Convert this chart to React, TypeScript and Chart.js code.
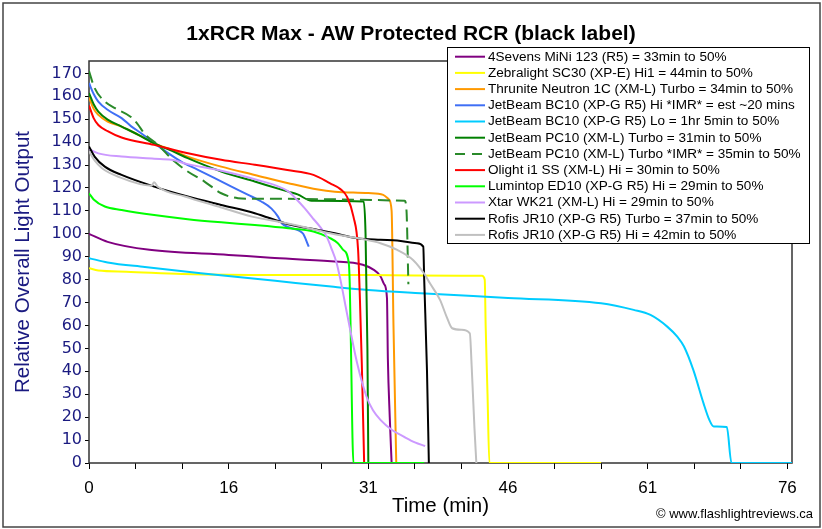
import { useEffect, useRef } from "react";
import { Chart, registerables } from "chart.js";

Chart.register(...registerables);

const chartTitle = "1xRCR Max - AW Protected RCR (black label)";
const yAxisTitle = "Relative Overall Light Output";
const xAxisTitle = "Time (min)";
const credit = "\u00a9 www.flashlightreviews.ca";

// the time axis is a category-style axis: a label every 15 steps
const xTickLabels = ["0", "16", "31", "46", "61", "76"];
const xMax = 75.5;
const yMax = 175.4;

const seriesNames = [
  "4Sevens MiNi 123 (R5) = 33min to 50%",
  "Zebralight SC30 (XP-E) Hi1 = 44min to 50%",
  "Thrunite Neutron 1C (XM-L) Turbo = 34min to 50%",
  "JetBeam BC10 (XP-G R5) Hi *IMR* = est ~20 mins",
  "JetBeam BC10 (XP-G R5) Lo = 1hr 5min to 50%",
  "JetBeam PC10 (XM-L) Turbo = 31min to 50%",
  "JetBeam PC10 (XM-L) Turbo *IMR* = 35min to 50%",
  "Olight i1 SS (XM-L) Hi = 30min to 50%",
  "Lumintop ED10 (XP-G R5) Hi = 29min to 50%",
  "Xtar WK21 (XM-L) Hi = 29min to 50%",
  "Rofis JR10 (XP-G R5) Turbo = 37min to 50%",
  "Rofis JR10 (XP-G R5) Hi = 42min to 50%",
];

const seriesColors = [
  "#800080", "#FFFF00", "#FF9900", "#3F6FF5", "#00CCFF", "#008000",
  "#2A8A2A", "#FF0000", "#00FF00", "#CC99FF", "#000000", "#C0C0C0",
];

type Pt = [number, number];

const fourSevens: Pt[] = [
  [0, 100], [2, 96.5], [6.5, 93], [15, 90.8], [19.5, 89.6], [26, 88],
  [29.4, 86.5], [30.5, 84.5], [31.3, 81.5], [31.7, 78], [32.0, 72],
  [32.1, 45], [32.3, 20], [32.5, 0],
];
const zebralight: Pt[] = [
  [0, 85], [1, 84], [4, 83.5], [10, 82.5], [20, 82], [30, 82], [40, 81.7],
  [42.2, 81.7], [42.5, 80], [42.6, 60], [42.8, 30], [43.0, 0], [55, 0],
];
const thrunite: Pt[] = [
  [0, 159.5], [0.5, 154.5], [1, 151.9], [2, 149], [3.5, 146.8], [5.3, 143.2],
  [7, 139.6], [8.85, 136.6], [10.6, 133.7], [14.2, 129.3], [17.8, 125.7],
  [21.4, 122.1], [24.6, 119.3], [26.4, 118.4], [30, 117.8], [31.6, 117],
  [32.2, 115], [32.5, 110], [32.7, 60], [33.0, 0],
];
const bc10Hi: Pt[] = [
  [0, 165.8], [0.5, 161], [1, 157.7], [2, 154.1], [3.5, 150.5], [4.5, 147],
  [5.6, 143.9], [7, 139.6], [8.5, 135.2], [9.9, 131.5], [11.7, 127.9],
  [13.5, 124.3], [15.3, 120.6], [17.1, 117], [18.5, 114.1], [19.6, 111],
  [20.3, 107.5], [20.7, 104.6], [21.5, 102.8], [22.5, 101.5], [23, 100],
  [23.6, 94.4],
];
const bc10Lo: Pt[] = [
  [0, 89.4], [2, 87.5], [6, 85.5], [12, 82.8], [20, 79.5], [26, 77],
  [30, 75.5], [35.6, 74.1], [45, 72], [55, 69.7], [58.5, 66.8], [60.3, 64.6],
  [62.1, 59.5], [63.2, 55], [63.9, 50.8], [64.9, 40.6], [66, 26], [66.6, 19],
  [67.1, 15.9], [68.5, 15.7], [69, 0], [75.5, 0],
];
const pc10Turbo: Pt[] = [
  [0, 161.4], [0.5, 156.5], [1, 153.3], [2, 149.8], [3.5, 146.8], [5.3, 143.2],
  [7, 139.4], [8.85, 136.3], [10.6, 133], [14.2, 127.2], [17.8, 122.8],
  [21.4, 118.4], [22.4, 117.2], [23.9, 114.4], [29.5, 114.1], [29.7, 100],
  [29.9, 50], [30.0, 0],
];
const pc10Imr: Pt[] = [
  [0, 171], [0.6, 163.6], [1.7, 157.7], [2.8, 154.8], [4.5, 151], [5.2, 148],
  [6, 143.5], [7.4, 138.8], [9.2, 131.5], [10.6, 127.2], [12.4, 122.8],
  [14.2, 117.7], [16, 115.5], [17, 115.3], [33.9, 114.4], [34.1, 110], [34.3, 78],
];
const olight: Pt[] = [
  [0, 156], [0.5, 150.5], [1, 147.5], [2, 144.8], [3.5, 142], [7, 138.8],
  [10.5, 135.3], [14.2, 132.3], [17.8, 130.1], [21.3, 127.8], [24.1, 125.7],
  [25.9, 122], [27, 119.5], [27.7, 116.2], [28.4, 107.5], [28.9, 93],
  [29.1, 71], [29.3, 43], [29.55, 0],
];
const lumintop: Pt[] = [
  [0, 117.7], [0.5, 115], [1.7, 111.9], [3.5, 110.4], [7, 108.2],
  [10.6, 106.4], [14.2, 105], [17.8, 103.8], [21.4, 102.4], [24.1, 101],
  [25.9, 98.1], [26.7, 96], [27.3, 93], [27.9, 87.2], [28.0, 78.5],
  [28.1, 58], [28.4, 0], [36, 0],
];
const xtar: Pt[] = [
  [0, 137], [1, 135.1], [3.5, 133.7], [7, 132.8], [8.85, 132.3],
  [10.6, 130.4], [14.2, 127.5], [17.8, 123.8], [21.4, 118.5], [22.3, 115],
  [23.2, 111], [24, 107], [24.8, 103.1], [25.5, 99], [26, 94], [26.6, 87.2],
  [27.0, 80], [27.7, 65.4], [28.8, 43.5], [29.8, 29], [30.5, 23], [31.3, 18.8],
  [32.5, 14.5], [33.8, 11.5], [35, 9], [36.1, 7.4],
];
const rofisTurbo: Pt[] = [
  [0, 138.1], [0.6, 133.7], [1.7, 129.3], [3.5, 125.7], [7, 120.6],
  [10.6, 116.3], [14.2, 112.6], [17.8, 109], [21.4, 104.2], [24.6, 101.7],
  [26.4, 100.2], [28.8, 98.1], [31.3, 97.4], [33.1, 97.1], [35.2, 95.9],
  [35.9, 94.4], [36.0, 80], [36.3, 40], [36.5, 0],
];
const rofisHi: Pt[] = [
  [0, 136], [0.6, 132], [1.4, 128.6], [3.15, 124.9], [6.7, 121], [7.0, 122.5],
  [7.4, 120.5], [10.3, 116.3], [13.9, 111.9], [17.5, 107.5], [21.1, 104.7],
  [24.1, 102], [25.9, 100.2], [29.5, 97.6], [31.3, 95.9], [33.1, 93],
  [34.8, 88.6], [36.1, 82], [36.6, 78.5], [37.7, 71.2], [38.4, 63.9],
  [39.0, 58.8], [40.0, 58.1], [40.9, 56.6], [41.1, 42], [41.4, 15], [41.6, 0],
];

const seriesData = [
  fourSevens, zebralight, thrunite, bc10Hi, bc10Lo, pc10Turbo,
  pc10Imr, olight, lumintop, xtar, rofisTurbo, rofisHi,
];
const dashedSeries = [6];

const sans = "'Liberation Sans', Arial, sans-serif";

const decorations = {
  id: "decorations",
  beforeDatasetsDraw(chart: Chart) {
    const { ctx, chartArea: a } = chart;
    ctx.save();
    ctx.strokeStyle = "#333";
    ctx.lineWidth = 1.5;
    ctx.strokeRect(a.left, a.top, a.right - a.left, a.bottom - a.top);
    ctx.restore();
  },
  afterDraw(chart: Chart) {
    const { ctx, width, height } = chart;
    ctx.save();
    // outer frame
    ctx.strokeStyle = "#444";
    ctx.lineWidth = 1.5;
    ctx.strokeRect(3, 3, width - 5, height - 5);

    // title
    ctx.fillStyle = "#000";
    ctx.font = `bold 21px ${sans}`;
    ctx.textAlign = "center";
    ctx.textBaseline = "middle";
    ctx.fillText(chartTitle, width / 2, 34);

    // credit
    ctx.font = `13px ${sans}`;
    ctx.textAlign = "right";
    ctx.fillText(credit, 813, 514);

    // legend
    const lx = 447, ly = 47, lw = 362, lh = 196;
    ctx.fillStyle = "#fff";
    ctx.fillRect(lx, ly, lw, lh);
    ctx.strokeStyle = "#000";
    ctx.lineWidth = 1;
    ctx.strokeRect(lx + 0.5, ly + 0.5, lw, lh);
    chart.data.datasets.forEach((ds: any, i: number) => {
      const cy = 56.7 + i * 16.2;
      ctx.strokeStyle = ds.borderColor;
      ctx.lineWidth = 2;
      ctx.setLineDash(ds.borderDash && ds.borderDash.length ? [10, 7] : []);
      ctx.beginPath();
      ctx.moveTo(455, cy);
      ctx.lineTo(485, cy);
      ctx.stroke();
      ctx.setLineDash([]);
      ctx.save();
      ctx.translate(488, cy);
      ctx.scale(1.13, 1);
      ctx.fillStyle = "#000";
      ctx.font = `12px ${sans}`;
      ctx.textAlign = "left";
      ctx.textBaseline = "middle";
      ctx.fillText(ds.label, 0, 0.5);
      ctx.restore();
    });
    ctx.restore();
  },
};

export default function App() {
  const chartRef = useRef<HTMLCanvasElement>(null);

  useEffect(() => {
    document.body.style.margin = "0";
    if (!chartRef.current) return;

    const datasets = seriesData.map((points, i) => ({
      label: seriesNames[i],
      data: points.map(([x, y]) => ({ x, y })),
      borderColor: seriesColors[i],
      backgroundColor: seriesColors[i],
      borderWidth: 2,
      borderDash: dashedSeries.includes(i) ? [12, 6] : [],
      pointRadius: 0,
      fill: false,
      cubicInterpolationMode: "monotone" as const,
      order: seriesData.length - i,
    }));

    const chart = new Chart(chartRef.current, {
      type: "line",
      data: { datasets },
      plugins: [decorations],
      options: {
        responsive: false,
        animation: false,
        layout: { padding: { top: 61, right: 30, bottom: 0, left: 0 } },
        plugins: {
          legend: { display: false },
          title: { display: false },
          tooltip: { enabled: false },
        },
        scales: {
          x: {
            type: "linear",
            min: 0,
            max: xMax,
            afterFit: (scale: any) => {
              scale.height = 66;
            },
            border: { display: false },
            grid: { drawOnChartArea: false, drawTicks: true, tickLength: 6, color: "#000" },
            ticks: {
              stepSize: 5,
              autoSkip: false,
              includeBounds: false,
              maxRotation: 0,
              padding: 9,
              color: "#000",
              font: { family: sans, size: 17 },
              callback: (v: any) => {
                const n = Math.round(Number(v));
                return n % 15 === 0 ? xTickLabels[n / 15] ?? "" : "";
              },
            },
            title: {
              display: true,
              text: xAxisTitle,
              color: "#000",
              font: { family: sans, size: 20.5 },
              padding: { top: 0, bottom: 10 },
            },
          },
          y: {
            min: 0,
            max: yMax,
            afterFit: (scale: any) => {
              scale.width = 89;
            },
            border: { display: false },
            grid: { drawOnChartArea: false, drawTicks: true, tickLength: 4, color: "#000" },
            ticks: {
              stepSize: 10,
              includeBounds: false,
              padding: 3,
              color: "#1a1a80",
              font: { family: "'DejaVu Sans', sans-serif", size: 16 },
            },
            title: {
              display: true,
              text: yAxisTitle,
              color: "#1a1a80",
              font: { family: sans, size: 20.5 },
              padding: { top: 11, bottom: 0 },
            },
          },
        },
      },
    });

    return () => {
      chart.destroy();
    };
  }, []);

  return <canvas ref={chartRef} width={822} height={529}></canvas>;
}
